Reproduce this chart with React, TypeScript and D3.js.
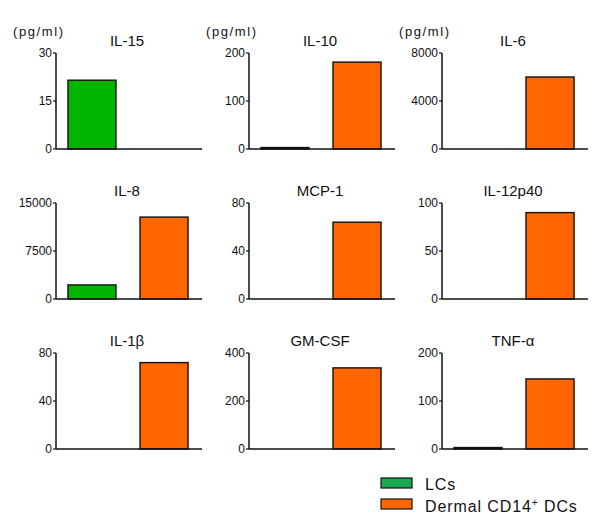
import React from "react";
import * as d3 from "d3";

const cytokines = ["IL-15", "IL-10", "IL-6", "IL-8", "MCP-1", "IL-12p40", "IL-1β", "GM-CSF", "TNF-α"];
const groups = ["LCs", "Dermal"];
const lcsValues = [21.5, 3, 0, 2200, 0, 0, 0, 0, 3];
const dermalValues = [0, 181, 6000, 12800, 64, 90, 72, 338, 146];
const yMaxes = [30, 200, 8000, 15000, 80, 100, 80, 400, 200];
const tickValues = [
  [0, 15, 30],
  [0, 100, 200],
  [0, 4000, 8000],
  [0, 7500, 15000],
  [0, 40, 80],
  [0, 50, 100],
  [0, 40, 80],
  [0, 200, 400],
  [0, 100, 200],
];
const unitLabel = "(pg/ml)";
const legendLabels = ["LCs", "Dermal CD14"];

const colors = ["#00b400", "#ff6600"];
const legendColors = ["#1aa850", "#ff6600"];

const colX = [56, 249, 442];
const rowTop = [53, 203, 353];
const plotH = 96;
const plotW = 144;
const font = "Arial, 'Liberation Sans', sans-serif";

function Panel({ i }: { i: number }) {
  const col = i % 3;
  const row = Math.floor(i / 3);
  const x0 = colX[col];
  const y0 = rowTop[row];
  const y = d3.scaleLinear().domain([0, yMaxes[i]]).range([y0 + plotH, y0]);
  const x = d3
    .scaleBand()
    .domain(groups)
    .range([x0, x0 + plotW])
    .paddingInner(0.333)
    .paddingOuter(0.166);
  const vals = [lcsValues[i], dermalValues[i]];
  return (
    <g>
      {vals.map((v, k) =>
        v > 0 ? (
          <rect
            key={k}
            x={x(groups[k])}
            y={y(v)}
            width={x.bandwidth()}
            height={y(0) - y(v)}
            fill={colors[k]}
            stroke="#111"
            strokeWidth={1.4}
          />
        ) : null
      )}
      <line x1={x0} x2={x0} y1={y0} y2={y0 + plotH} stroke="#111" strokeWidth={1.5} />
      <line x1={x0} x2={x0 + plotW + 2} y1={y0 + plotH} y2={y0 + plotH} stroke="#111" strokeWidth={1.5} />
      {tickValues[i].map((t) => (
        <g key={t}>
          <line x1={x0 - 3} x2={x0} y1={y(t)} y2={y(t)} stroke="#111" strokeWidth={1.2} />
          <text
            x={x0 - 4}
            y={y(t)}
            dy="0.35em"
            textAnchor="end"
            fontSize={12}
            fontFamily={font}
            fill="#111"
          >
            {t}
          </text>
        </g>
      ))}
      <text
        x={x0 + 71}
        y={y0 - 7}
        textAnchor="middle"
        fontSize={15}
        fontFamily={font}
        fill="#111"
      >
        {cytokines[i]}
      </text>
      {row === 0 ? (
        <text
          x={x0 - 43}
          y={y0 - 17}
          fontSize={13}
          fontFamily={font}
          fill="#111"
          textLength={50}
          lengthAdjust="spacing"
        >
          {unitLabel}
        </text>
      ) : null}
    </g>
  );
}

export default function App() {
  return (
    <svg width={601} height={530} style={{ display: "block", position: "absolute", left: 0, top: 0 }}>
      <rect width={601} height={530} fill="#fff" />
      {cytokines.map((_, i) => (
        <Panel key={i} i={i} />
      ))}
      <g>
        <rect x={381} y={478} width={31} height={10} fill={legendColors[0]} stroke="#111" strokeWidth={1.2} />
        <rect x={381} y={499} width={31} height={10} fill={legendColors[1]} stroke="#111" strokeWidth={1.2} />
        <text x={425} y={490} fontSize={16} fontFamily={font} fill="#111" letterSpacing={0.9}>
          {legendLabels[0]}
        </text>
        <text x={425} y={512} fontSize={16} fontFamily={font} fill="#111" letterSpacing={0.9}>
          {legendLabels[1]}
          <tspan fontSize={10} dy={-6}>+</tspan>
          <tspan dy={6}> DCs</tspan>
        </text>
      </g>
    </svg>
  );
}
